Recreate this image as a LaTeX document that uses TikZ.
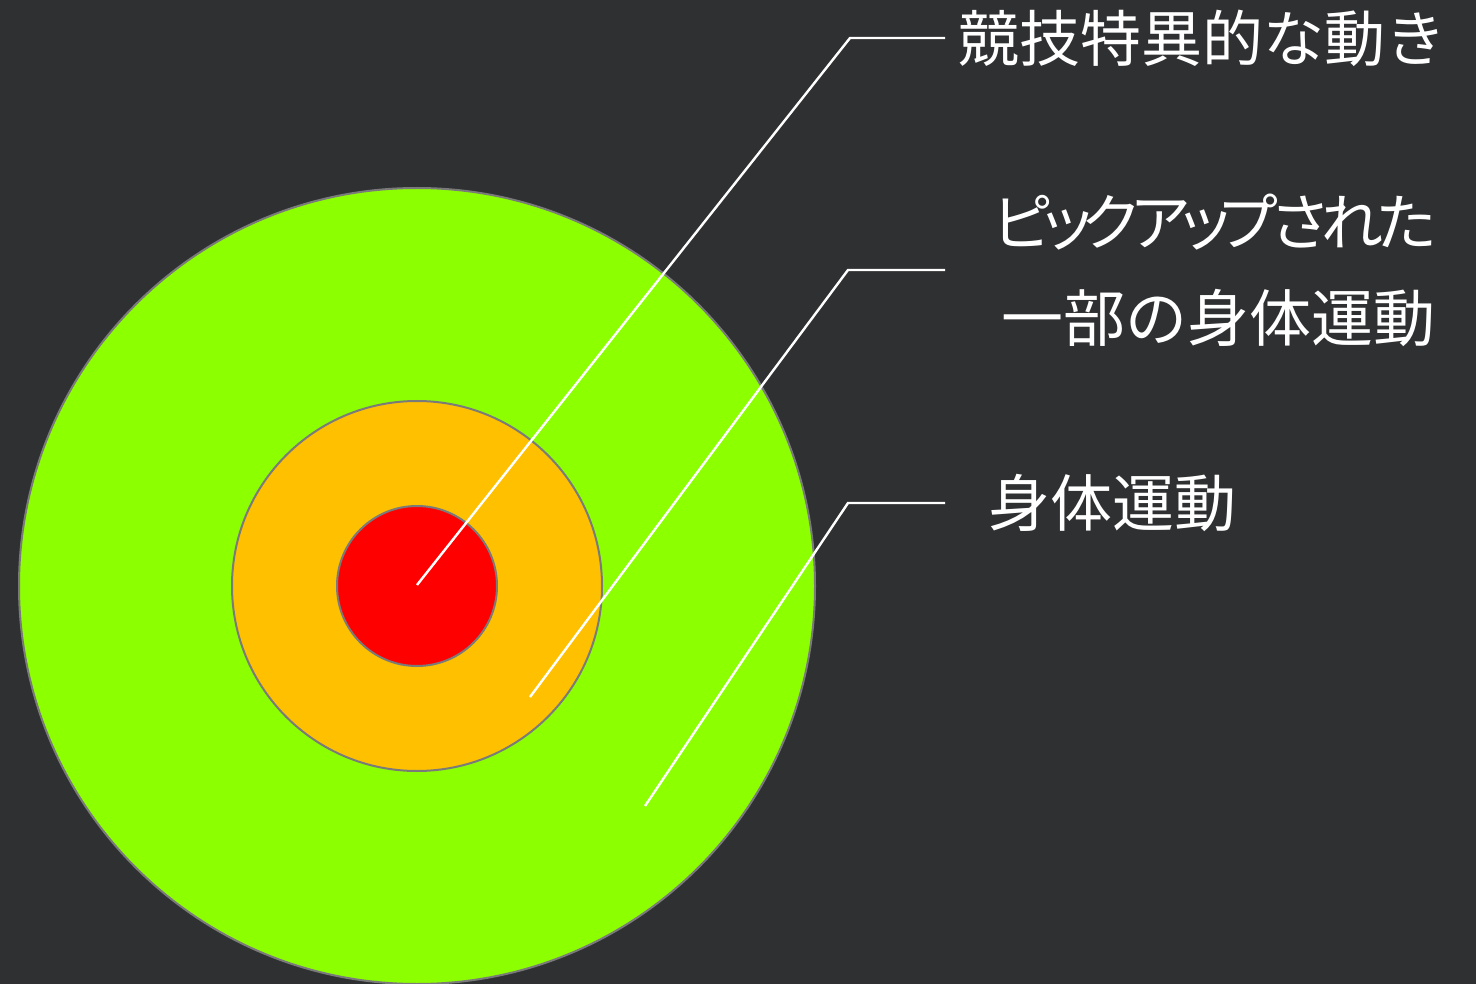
\documentclass[tikz,border=0pt]{standalone}
\usepackage{fontspec}
\setmainfont{Noto Sans CJK JP}
\newfontfamily\paltfont[RawFeature=+palt]{Noto Sans CJK JP}
\definecolor{board}{HTML}{2F3032}
\definecolor{ringgreen}{HTML}{8CFF00}
\definecolor{ringorange}{HTML}{FFC000}
\definecolor{ringred}{HTML}{FF0000}
\definecolor{rimgray}{HTML}{7A7A7A}
\tikzset{
  ring/.style={circle, draw=rimgray, line width=2pt, inner sep=0pt},
  leader/.style={draw=white, line width=2.4pt},
  lbl/.style={text=white, font=\fontsize{61}{72}\selectfont, inner sep=0pt}
}
\begin{document}
\begin{tikzpicture}[x=1pt,y=-1pt]
\fill[board] (0,0) rectangle (1476,984);
\useasboundingbox (0,0) rectangle (1476,984);
\node[ring, fill=ringgreen, minimum size=796pt] (green) at (417,586) {};
\node[ring, fill=ringorange, minimum size=370pt] (orange) at (417,586) {};
\node[ring, fill=ringred, minimum size=160pt] (red) at (417,586) {};
\coordinate (p1) at (417,585);
\coordinate (b1) at (850,38);
\coordinate (e1) at (945,38);
\coordinate (p2) at (530,697);
\coordinate (b2) at (848,270);
\coordinate (e2) at (945,270);
\coordinate (p3) at (645,806);
\coordinate (b3) at (848,503);
\coordinate (e3) at (945,503);
\draw[leader] (p1) -- (b1) -- (e1);
\draw[leader] (p2) -- (b2) -- (e2);
\draw[leader] (p3) -- (b3) -- (e3);
\node[lbl, anchor=west] (t1) at (958,38) {競技特異的な動き};
\node[lbl, anchor=east, font=\paltfont\fontsize{62}{72}\selectfont] (t2) at (1436,222) {ピ\kern-8ptッ\kern-10ptク\kern-6ptア\kern-8ptッ\kern-10ptプ\kern-6ptさ\kern-6ptれ\kern-6ptた};
\node[lbl, anchor=east, font=\fontsize{62}{72}\selectfont] (t3) at (1436,318) {一部の身体運動};
\node[lbl, anchor=west, font=\fontsize{62}{72}\selectfont] (t4) at (988,503) {身体運動};
\end{tikzpicture}
\end{document}
